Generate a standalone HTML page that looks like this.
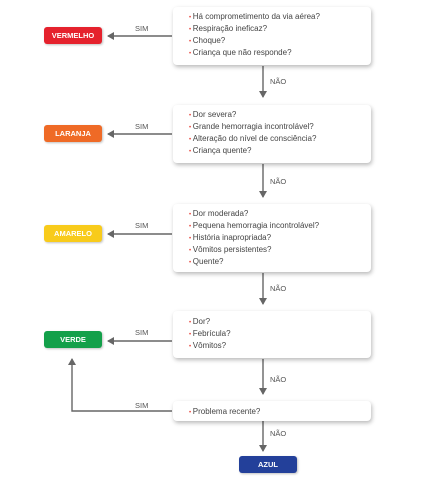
<!DOCTYPE html>
<html><head><meta charset="utf-8"><style>
html,body{margin:0;padding:0;background:#fff;width:440px;height:477px;overflow:hidden;font-family:"Liberation Sans",sans-serif;}
.box{position:absolute;left:173px;width:198px;background:#fff;border-radius:4px;box-shadow:1px 2px 4px rgba(0,0,0,0.28);}
.box div{position:absolute;left:16px;font-size:8px;color:#444;white-space:nowrap;}
.box div:before{content:"• ";color:#e8453c;font-size:6px;}
.b{position:absolute;width:58px;height:17px;border-radius:3px;color:#fff;font-size:7.5px;font-weight:bold;text-align:center;line-height:17px;box-shadow:1px 1px 2px rgba(0,0,0,0.25);}
.l{position:absolute;font-size:7.5px;color:#555;}
svg{position:absolute;left:0;top:0}
</style></head><body>
<svg width="440" height="477">
<defs><marker id="a" markerWidth="8" markerHeight="8" refX="6" refY="4" orient="auto" markerUnits="userSpaceOnUse"><path d="M0,0 L7,4 L0,8 z" fill="#666"/></marker></defs>
<g stroke="#666" stroke-width="1.4" fill="none" marker-end="url(#a)">
<line x1="172" y1="36" x2="108" y2="36"/>
<line x1="172" y1="134" x2="108" y2="134"/>
<line x1="172" y1="234" x2="108" y2="234"/>
<line x1="172" y1="341" x2="108" y2="341"/>
<line x1="263" y1="66" x2="263" y2="97"/>
<line x1="263" y1="164" x2="263" y2="197"/>
<line x1="263" y1="273" x2="263" y2="304"/>
<line x1="263" y1="359" x2="263" y2="394"/>
<line x1="263" y1="421" x2="263" y2="451"/>
<polyline points="172,411 72,411 72,359"/>
</g>
</svg>
<div class="b" style="left:44px;top:27px;background:#e5222d">VERMELHO</div>
<div class="b" style="left:44px;top:125px;background:#ef6a26">LARANJA</div>
<div class="b" style="left:44px;top:225px;background:#f8cb1b">AMARELO</div>
<div class="b" style="left:44px;top:331px;background:#13a04a">VERDE</div>
<div class="b" style="left:239px;top:456px;background:#23409a">AZUL</div>
<div class="l" style="left:135px;top:24px">SIM</div>
<div class="l" style="left:135px;top:122px">SIM</div>
<div class="l" style="left:135px;top:221px">SIM</div>
<div class="l" style="left:135px;top:328px">SIM</div>
<div class="l" style="left:135px;top:401px">SIM</div>
<div class="l" style="left:270px;top:77px">NÃO</div>
<div class="l" style="left:270px;top:177px">NÃO</div>
<div class="l" style="left:270px;top:284px">NÃO</div>
<div class="l" style="left:270px;top:375px">NÃO</div>
<div class="l" style="left:270px;top:429px">NÃO</div>
<div class="box" style="top:7px;height:58px">
<div style="top:5px">Há comprometimento da via aérea?</div>
<div style="top:17px">Respiração ineficaz?</div>
<div style="top:29px">Choque?</div>
<div style="top:41px">Criança que não responde?</div>
</div>
<div class="box" style="top:105px;height:58px">
<div style="top:5px">Dor severa?</div>
<div style="top:17px">Grande hemorragia incontrolável?</div>
<div style="top:29px">Alteração do nível de consciência?</div>
<div style="top:41px">Criança quente?</div>
</div>
<div class="box" style="top:204px;height:68px">
<div style="top:5px">Dor moderada?</div>
<div style="top:17px">Pequena hemorragia incontrolável?</div>
<div style="top:29px">História inapropriada?</div>
<div style="top:41px">Vômitos persistentes?</div>
<div style="top:53px">Quente?</div>
</div>
<div class="box" style="top:311px;height:47px">
<div style="top:6px">Dor?</div>
<div style="top:18px">Febrícula?</div>
<div style="top:30px">Vômitos?</div>
</div>
<div class="box" style="top:401px;height:20px">
<div style="top:6px">Problema recente?</div>
</div>
</body></html>
